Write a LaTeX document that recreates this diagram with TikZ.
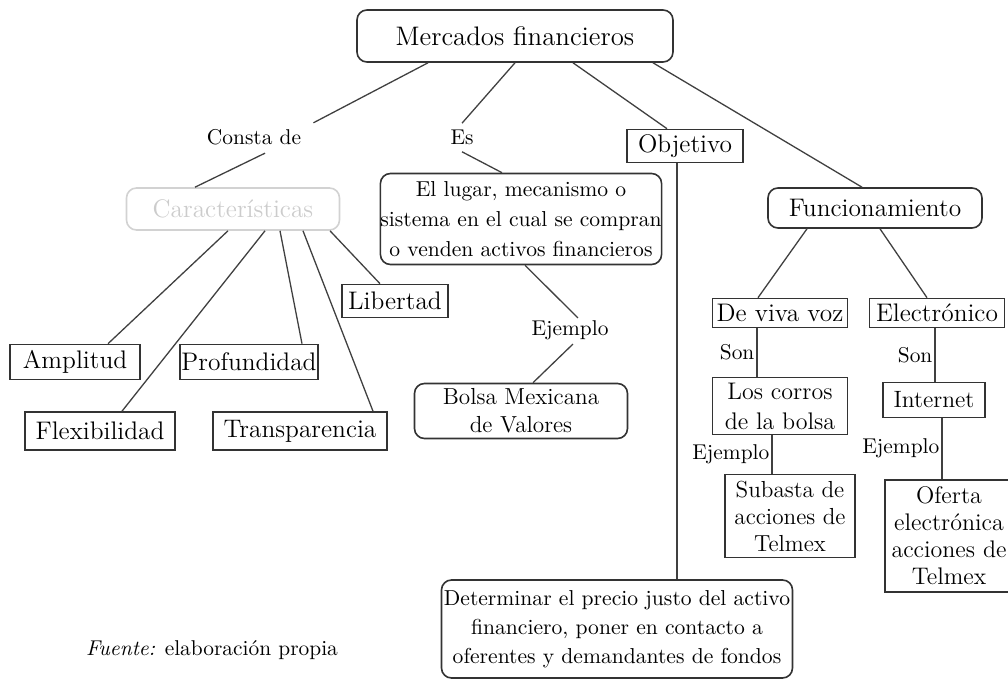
\documentclass[tikz,border=0pt]{standalone}
\usepackage{tikz}
\tikzstyle{caja}=[draw=black!80,line width=0.8pt,inner sep=0pt,align=center,font=\fontsize{12.7}{15}\selectfont]
\tikzstyle{redonda}=[caja,rounded corners=5pt]
\tikzstyle{enlace}=[inner sep=1pt,font=\fontsize{10.7}{13}\selectfont]
\tikzstyle{linea}=[draw=black!75,line width=0.65pt]

\begin{document}
\begin{tikzpicture}[x=0.5pt,y=-0.5pt]
\useasboundingbox (0,0) rectangle (1008,679);

\node[redonda,minimum width=158pt,minimum height=26pt,font=\fontsize{13.4}{16}\selectfont] (merc) at (515,36) {Mercados financieros};

\node[enlace] (consta) at (254,137) {Consta de};
\node[enlace] (es) at (462,137) {Es};
\node[caja,minimum width=58pt,minimum height=16.5pt] (obj) at (685,146) {Objetivo};

\node[redonda,draw=gray!35,text=gray!40,minimum width=106.5pt,minimum height=21pt] (caract) at (233,209) {Características};
\node[redonda,minimum width=136.5pt,minimum height=45.5pt,font=\fontsize{10.8}{15}\selectfont] (lugar) at (521,219) {El lugar, mecanismo o\\sistema en el cual se compran\\o venden activos financieros};
\node[redonda,minimum width=107pt,minimum height=20pt] (func) at (875,208) {Funcionamiento};

\node[caja,minimum width=53pt,minimum height=16.5pt] (libertad) at (395,301) {Libertad};
\node[caja,minimum width=65pt,minimum height=17.5pt] (amplitud) at (75,362) {Amplitud};
\node[caja,minimum width=69pt,minimum height=17.5pt] (profund) at (249,362) {Profundidad};
\node[caja,minimum width=75pt,minimum height=19pt] (flexib) at (100,431) {Flexibilidad};
\node[caja,minimum width=87pt,minimum height=19pt] (transp) at (300,431) {Transparencia};

\node[enlace] (ejemplo) at (570,330) {Ejemplo};
\node[redonda,minimum width=106.5pt,minimum height=27.5pt,font=\fontsize{11.6}{14}\selectfont] (bolsa) at (521,411) {Bolsa Mexicana\\de Valores};

\node[caja,minimum width=67.5pt,minimum height=14.5pt] (viva) at (780,313) {De viva voz};
\node[caja,minimum width=67.5pt,minimum height=14.5pt] (electr) at (937,313) {Electrónico};
\node[caja,minimum width=67.5pt,minimum height=28.5pt,font=\fontsize{12}{15}\selectfont] (corros) at (780,406) {Los corros\\de la bolsa};
\node[caja,minimum width=51pt,minimum height=17.5pt,font=\fontsize{11.8}{14}\selectfont] (internet) at (934,400) {Internet};
\node[caja,minimum width=65pt,minimum height=41.5pt,font=\fontsize{11.6}{13.5}\selectfont] (subasta) at (790,516) {Subasta de\\acciones de\\Telmex};
\node[caja,minimum width=64pt,minimum height=56pt,font=\fontsize{12}{13.5}\selectfont] (oferta) at (949,536) {Oferta\\electrónica\\acciones de\\Telmex};

\node[redonda,minimum width=175.5pt,minimum height=49pt,font=\fontsize{10.8}{14.5}\selectfont] (determ) at (617,629) {Determinar el precio justo del activo\\financiero, poner en contacto a\\oferentes y demandantes de fondos};

\node[enlace] (fuente) at (212,650) {\textit{Fuente:} elaboración propia};

\draw[linea] ([xshift=-43.5pt]merc.south) -- ([xshift=5pt,yshift=2pt]consta.north east);
\draw[linea] ([xshift=5.5pt,yshift=-3pt]consta.south) -- ([xshift=-19pt]caract.north);
\draw[linea] (merc.south) -- ([yshift=2pt]es.north);
\draw[linea] ([yshift=-2.5pt]es.south) -- ([xshift=-9.5pt]lugar.north);
\draw[linea] ([xshift=29pt]merc.south) -- ([xshift=-9pt]obj.north);
\draw[linea] ([xshift=69pt]merc.south) -- ([xshift=-6.5pt]func.north);

\draw[linea] ([xshift=-2.5pt]caract.south) -- ([xshift=16.5pt]amplitud.north);
\draw[linea] ([xshift=16pt]caract.south) -- ([xshift=11pt]flexib.north);
\draw[linea] ([xshift=23.5pt]caract.south) -- ([xshift=26.5pt]profund.north);
\draw[linea] ([xshift=35pt]caract.south) -- ([xshift=36.5pt]transp.north);
\draw[linea] ([xshift=48.5pt]caract.south) -- ([xshift=-7.5pt]libertad.north);

\draw[linea] ([xshift=2pt]lugar.south) -- ([xshift=4pt]ejemplo.north);
\draw[linea] ([xshift=1.5pt,yshift=-1pt]ejemplo.south) -- ([xshift=6pt]bolsa.north);

\draw[linea] ([xshift=-4pt]obj.south) -- ([xshift=-4pt]obj.south |- determ.north);

\draw[linea] ([xshift=-34pt]func.south) -- ([xshift=-11pt]viva.north);
\draw[linea] ([xshift=2.5pt]func.south) -- ([xshift=-5pt]electr.north);

\draw[linea] ([xshift=-11.5pt]viva.south) -- node[enlace,left] {Son} ([xshift=-11.5pt]viva.south |- corros.north);
\draw[linea] ([xshift=-1pt]electr.south) -- node[enlace,left] {Son} ([xshift=-1pt]electr.south |- internet.north);
\draw[linea] ([xshift=-4pt]corros.south) -- node[enlace,left] {Ejemplo} ([xshift=-4pt]corros.south |- subasta.north);
\draw[linea] ([xshift=4pt]internet.south) -- node[enlace,left] {Ejemplo} ([xshift=4pt]internet.south |- oferta.north);
\end{tikzpicture}
\end{document}
